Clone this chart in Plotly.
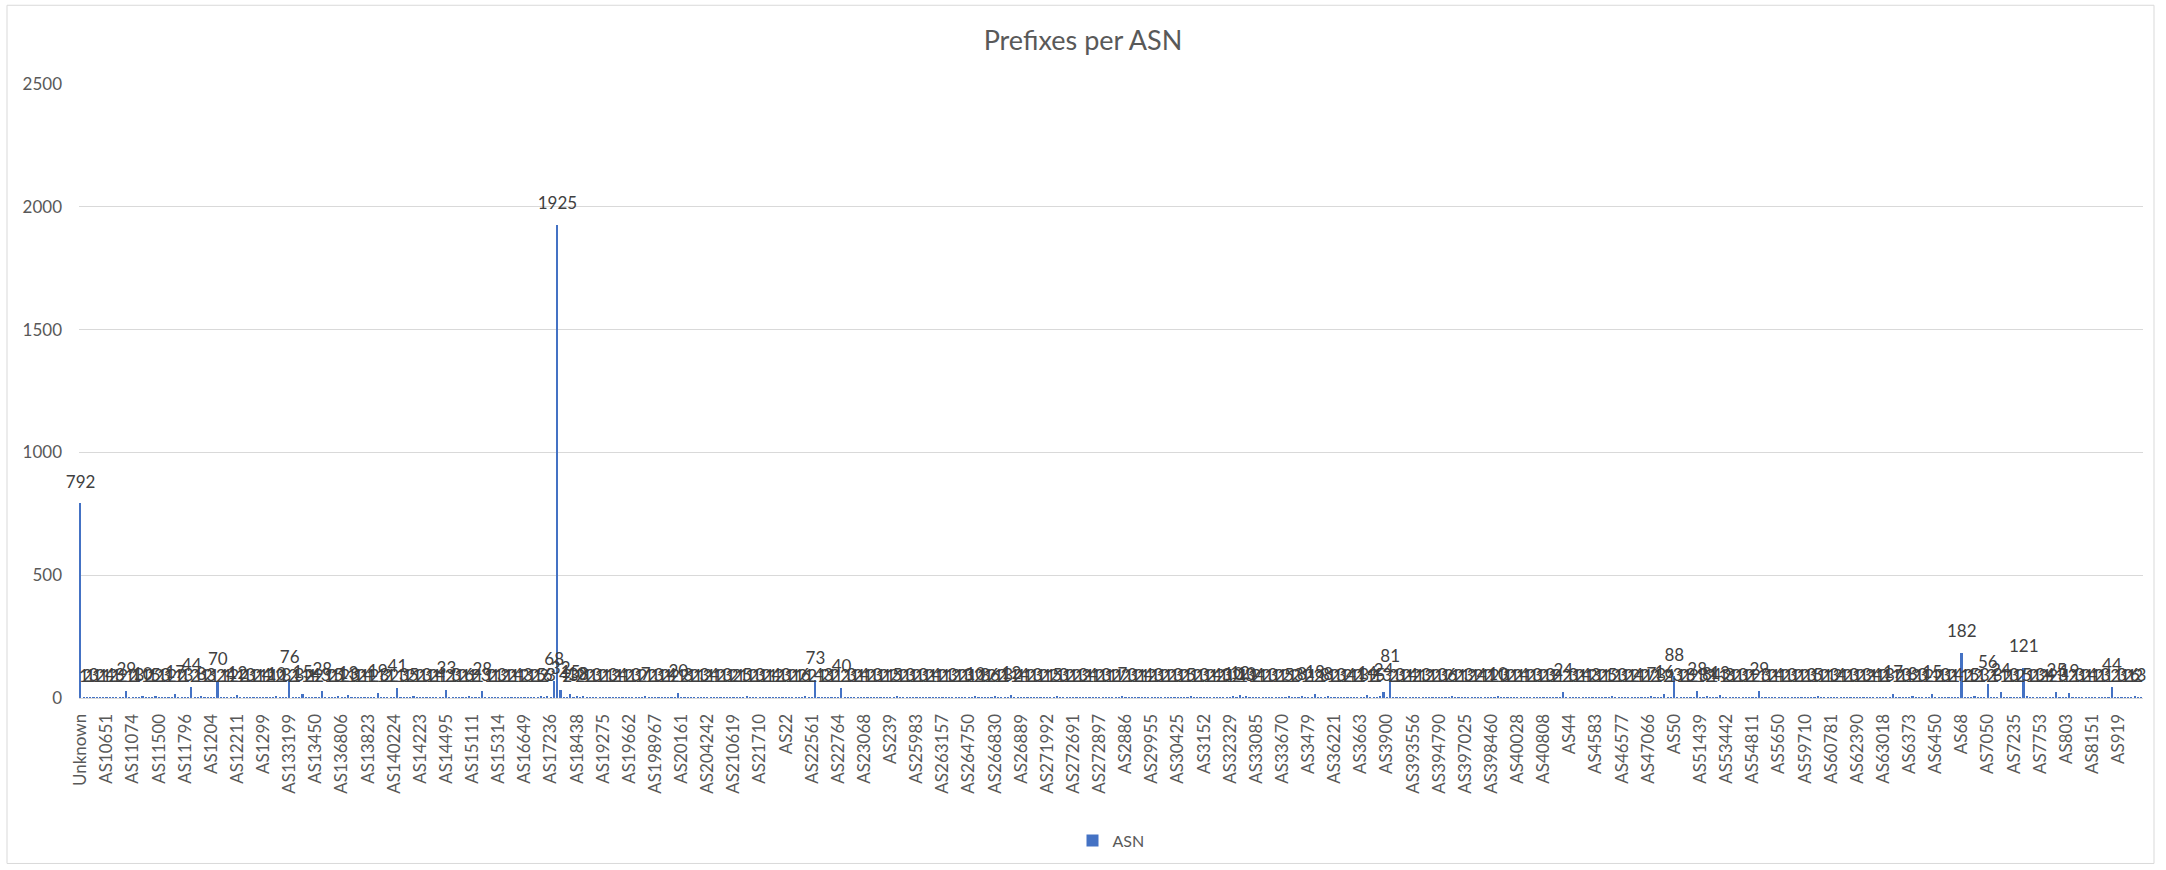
import plotly.graph_objects as go

# Prefix counts per origin ASN, in axis order (left to right).
counts_a = [
    792, 1, 2, 1, 3, 1, 2, 1, 1, 4, 2, 1, 3, 2, 29, 1,
    2, 1, 3, 10, 1, 2, 1, 5, 2, 1, 3, 1, 2, 17, 1, 2,
    1, 3, 44, 2, 1, 8, 1, 2, 3, 1, 70, 2, 1, 1, 4, 2,
    12, 1, 2, 1, 3, 1, 2, 1, 1, 4, 2, 1, 10, 2, 1, 3,
    76, 2, 1, 3, 15, 1, 2, 1, 4, 2, 28, 3, 1, 2, 1, 5,
    1, 2, 13, 1, 3, 1, 2, 1, 4, 1, 2, 19, 1, 3, 2, 1,
    2, 41, 1, 3, 1, 2, 5, 1, 2, 1, 3, 1, 2, 1, 4, 1,
    33, 2, 1, 3, 1, 2, 1, 6, 1, 2, 1, 28, 3, 1, 2, 1,
]
counts_b = [
    1, 3, 2, 1, 2, 1, 4, 1, 2, 3, 1, 2, 1, 5, 2, 6,
    3, 68, 1925, 32, 4, 2, 15, 3, 10, 2, 8, 1, 2, 1, 3, 1,
    2, 1, 1, 3, 2, 1, 4, 1, 2, 1, 3, 1, 2, 7, 1, 2,
    1, 3, 1, 2, 1, 4, 2, 20, 1, 2, 3, 1, 2, 1, 1, 3,
    2, 1, 4, 1, 2, 1, 3, 1, 2, 2, 1, 1, 5, 1, 2, 1,
    3, 1, 2, 1, 1, 4, 2, 1, 3, 1, 2, 1, 1, 2, 6, 1,
    2, 73, 4, 1, 2, 3, 1, 2, 1, 40, 2, 1, 3, 1, 2, 1,
    4, 1, 2, 1, 3, 1, 2, 1, 1, 2, 5, 1, 2, 1, 3, 1,
]
counts_c = [
    2, 1, 3, 1, 2, 1, 4, 1, 2, 1, 1, 3, 2, 1, 2, 1,
    3, 1, 10, 2, 1, 3, 1, 2, 6, 1, 2, 1, 3, 12, 1, 2,
    1, 4, 1, 2, 1, 3, 1, 2, 1, 1, 2, 5, 1, 3, 1, 2,
    1, 2, 1, 3, 2, 1, 4, 1, 2, 1, 3, 1, 1, 2, 1, 7,
    2, 1, 3, 1, 2, 1, 1, 4, 2, 1, 3, 1, 2, 1, 2, 1,
    3, 1, 2, 1, 5, 1, 2, 1, 3, 1, 2, 1, 4, 2, 1, 3,
    1, 10, 2, 12, 1, 10, 3, 1, 2, 4, 1, 2, 1, 3, 1, 2,
    1, 2, 5, 1, 2, 3, 8, 1, 2, 1, 18, 2, 1, 3, 8, 1,
]
counts_d = [
    2, 1, 3, 1, 2, 4, 1, 2, 1, 3, 14, 1, 2, 1, 5, 24,
    3, 81, 2, 1, 3, 1, 2, 1, 4, 2, 1, 1, 3, 2, 1, 2,
    1, 3, 1, 2, 6, 1, 2, 1, 1, 3, 2, 1, 2, 4, 1, 2,
    1, 2, 10, 1, 3, 1, 2, 1, 2, 1, 4, 1, 2, 1, 3, 1,
    2, 1, 3, 1, 2, 1, 24, 2, 1, 3, 1, 2, 1, 4, 1, 2,
    3, 1, 2, 1, 1, 5, 2, 1, 3, 1, 2, 1, 2, 4, 1, 2,
    1, 7, 2, 1, 3, 16, 2, 1, 88, 3, 1, 2, 1, 3, 2, 28,
    1, 3, 8, 2, 1, 4, 13, 1, 2, 3, 1, 2, 1, 3, 1, 2,
]
counts_e = [
    1, 2, 29, 1, 3, 1, 2, 1, 4, 1, 2, 1, 3, 1, 2, 1,
    2, 1, 3, 1, 5, 1, 2, 1, 1, 3, 2, 4, 1, 2, 1, 3,
    1, 2, 1, 3, 2, 1, 4, 1, 2, 1, 3, 17, 1, 2, 1, 3,
    1, 8, 2, 1, 3, 1, 2, 15, 1, 2, 1, 3, 1, 2, 1, 4,
    182, 1, 2, 1, 5, 2, 1, 3, 56, 2, 1, 3, 24, 1, 2, 1,
    3, 1, 2, 121, 5, 1, 2, 1, 3, 2, 1, 4, 2, 25, 1, 3,
    1, 19, 2, 1, 3, 1, 2, 1, 4, 1, 2, 1, 3, 1, 44, 2,
    1, 3, 1, 2, 1, 6, 2, 3,
]
prefix_counts = counts_a + counts_b + counts_c + counts_d + counts_e

# Every eighth ASN carries a visible axis label.
asn_tick_labels = [
    "Unknown", "AS10651", "AS11074", "AS11500", "AS11796", "AS1204", "AS12211", "AS1299",
    "AS133199", "AS13450", "AS136806", "AS13823", "AS140224", "AS14223", "AS14495", "AS15111",
    "AS15314", "AS16649", "AS17236", "AS18438", "AS19275", "AS19662", "AS198967", "AS20161",
    "AS204242", "AS210619", "AS21710", "AS22", "AS22561", "AS22764", "AS23068", "AS239",
    "AS25983", "AS263157", "AS264750", "AS266830", "AS26889", "AS271992", "AS272691", "AS272897",
    "AS2886", "AS29955", "AS30425", "AS3152", "AS32329", "AS33085", "AS33670", "AS3479",
    "AS36221", "AS3663", "AS3900", "AS393556", "AS394790", "AS397025", "AS398460", "AS40028",
    "AS40808", "AS44", "AS4583", "AS46577", "AS47066", "AS50", "AS51439", "AS53442",
    "AS54811", "AS5650", "AS59710", "AS60781", "AS62390", "AS63018", "AS6373", "AS6450",
    "AS68", "AS7050", "AS7235", "AS7753", "AS803", "AS8151", "AS919",
]
label_step = 8

positions = list(range(len(prefix_counts)))
tick_positions = [i * label_step for i in range(len(asn_tick_labels))]

FONT = "Lato, 'Open Sans', sans-serif"
TEXT_GREY = "#595959"
GRID = "#D9D9D9"
BAR_BLUE = "#4472C4"

W, H = 2166, 870
L, R, T, B = 79, 23, 84, 170
plot_w, plot_h = W - L - R, H - T - B

fig = go.Figure()
fig.add_trace(go.Bar(
    x=positions, y=prefix_counts, name="ASN", width=0.5,
    marker=dict(color=BAR_BLUE, line=dict(width=0)),
    showlegend=True,
))
# Data labels sit just above each bar.
fig.add_trace(go.Scatter(
    x=positions, y=prefix_counts, mode="markers+text",
    text=[str(v) for v in prefix_counts], textposition="top center",
    textfont=dict(family=FONT, size=17, color="#404040"),
    marker=dict(size=17, opacity=0), showlegend=False, hoverinfo="skip",
    cliponaxis=False,
))


def px_x(p):
    return (p - L) / plot_w


def px_y(p):
    return (H - B - p) / plot_h


fig.update_layout(
    width=W, height=H,
    margin=dict(l=L, r=R, t=T, b=B),
    paper_bgcolor="white", plot_bgcolor="white",
    font=dict(family=FONT, size=17, color=TEXT_GREY),
    title=dict(text="Prefixes per ASN", x=0.5, xanchor="center",
               y=1 - 41 / H, yanchor="middle",
               font=dict(family=FONT, size=27, color=TEXT_GREY)),
    bargap=0,
    legend=dict(orientation="h", x=0.5, xanchor="center",
                y=px_y(843), yanchor="middle",
                font=dict(family=FONT, size=16, color=TEXT_GREY),
                itemwidth=30),
    xaxis=dict(
        range=[-0.5, len(prefix_counts) - 0.5],
        tickmode="array", tickvals=tick_positions, ticktext=asn_tick_labels,
        tickangle=-90, ticks="", showgrid=False, zeroline=False,
        showline=True, linecolor=GRID, linewidth=1,
        tickfont=dict(family=FONT, size=17, color=TEXT_GREY),
        ticklabelstandoff=8,
    ),
    yaxis=dict(
        range=[0, 2500], dtick=500, tick0=0, ticks="",
        showgrid=True, gridcolor=GRID, gridwidth=1,
        zeroline=False, showline=False,
        tickfont=dict(family=FONT, size=17, color=TEXT_GREY),
        ticklabelstandoff=16,
    ),
    shapes=[dict(
        type="rect", xref="paper", yref="paper",
        x0=px_x(7), x1=px_x(2154), y0=px_y(866), y1=px_y(5),
        line=dict(color=GRID, width=1), fillcolor="rgba(0,0,0,0)", layer="below",
    )],
)

fig.write_html("out.html")
